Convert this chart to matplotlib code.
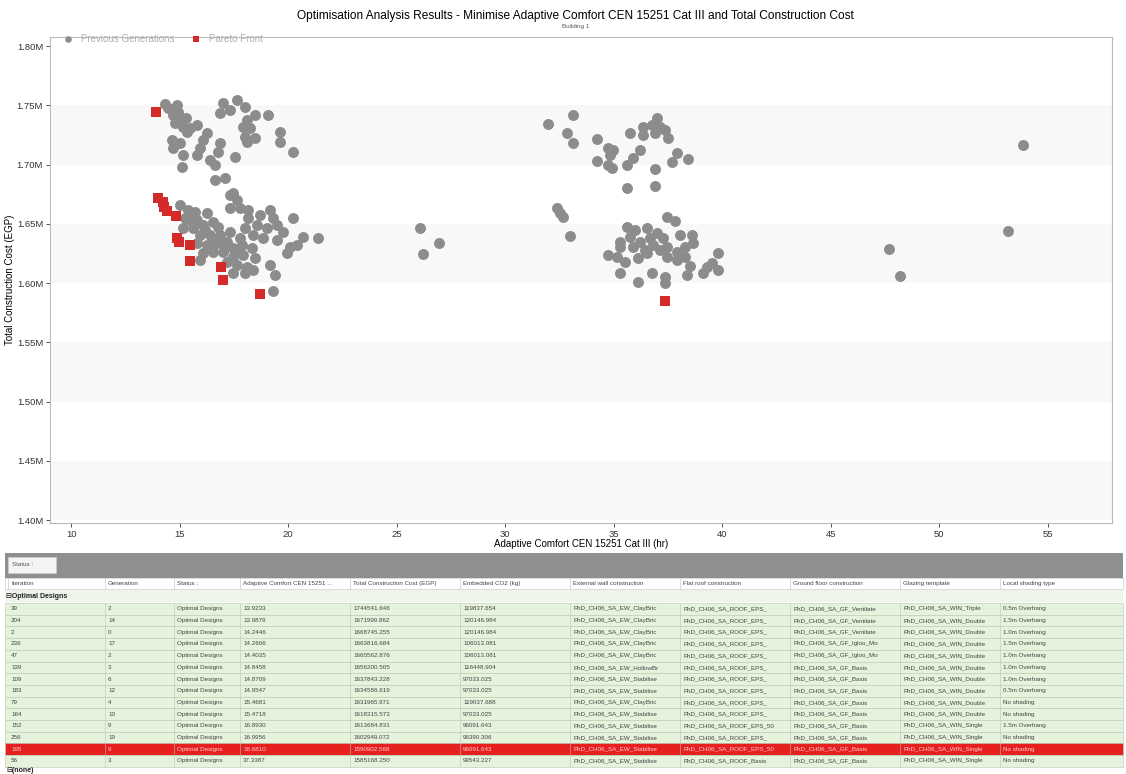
import matplotlib
matplotlib.use('Agg')
import matplotlib.pyplot as plt
from matplotlib.patches import Rectangle
from matplotlib.ticker import FuncFormatter
import numpy as np

plt.rcParams['font.family'] = ['Liberation Sans', 'DejaVu Sans']

# previous generations (comfort hr, cost in thousand EGP)
prev_x = [14.33, 14.88, 14.70, 15.02, 14.79, 15.16, 15.34, 15.80, 14.65, 15.02, 14.70, 15.16, 15.11,
          16.26, 16.08, 15.94, 15.80, 16.40, 16.63, 16.86, 16.77, 17.00, 16.86, 17.32, 17.65, 18.01,
          18.48, 18.11, 17.92, 18.25, 18.01, 18.48, 18.11, 19.07, 19.63, 19.63, 20.23, 17.55, 16.63,
          17.09, 14.47, 14.93, 15.30, 15.48,
          15.02, 15.39, 15.71, 15.25, 15.80, 16.26, 15.16, 15.62, 16.08, 16.54, 16.77, 15.94, 16.40,
          16.86, 17.32, 15.80, 16.26, 16.72, 17.19, 16.08, 16.54, 17.00, 17.46, 17.88, 17.46, 17.92,
          18.34, 15.94, 17.19, 17.65, 18.11, 18.38, 17.46, 18.01, 19.17, 19.40, 19.30, 17.32, 17.65,
          17.32, 17.78, 18.15, 18.15, 18.71, 19.17, 19.30, 18.57, 19.03, 19.49, 20.23, 18.38, 18.84,
          19.49, 19.77, 20.69, 21.38, 20.09, 20.41, 19.95, 17.46, 15.48, 16.17, 16.63, 17.09, 17.69,
          17.78, 18.01, 18.48,
          26.08, 26.95, 26.21,
          31.97, 33.12, 32.85, 33.12, 34.23, 34.73, 34.97, 34.83, 34.23, 34.73, 34.92, 35.75, 36.21,
          35.89, 35.61, 36.35, 36.35, 36.76, 36.99, 37.13, 36.90, 37.36, 37.50, 37.91, 37.68, 38.42,
          36.90, 35.61, 36.90,
          32.39, 32.52, 32.66, 32.98, 37.45, 37.82, 35.61, 35.98, 36.53, 36.99, 35.29, 35.29, 35.89,
          36.21, 36.44, 36.81, 37.27, 37.45, 38.05, 38.60, 38.65, 38.28, 37.91, 34.73, 35.15, 36.12,
          36.53, 37.45, 37.91, 38.28, 35.29, 36.12, 36.76, 37.36, 37.36, 38.37, 39.11, 39.30, 39.53,
          39.80, 39.80, 35.75, 36.67, 37.13, 35.52, 38.51,
          47.68, 48.18, 53.16, 53.85]
prev_y = [1751.1, 1750.2, 1741.8, 1737.6, 1735.0, 1731.6, 1727.4, 1733.3, 1720.7, 1718.1, 1713.9, 1708.0, 1697.9,
          1726.6, 1720.7, 1713.9, 1708.0, 1703.8, 1699.6, 1718.1, 1710.5, 1751.9, 1743.5, 1746.0, 1754.4, 1748.5,
          1741.8, 1737.6, 1731.6, 1730.8, 1723.2, 1722.4, 1719.0, 1741.8, 1727.4, 1719.0, 1710.5, 1706.3, 1686.9,
          1688.6, 1747.7, 1744.3, 1739.2, 1730.8,
          1665.8, 1661.6, 1659.9, 1654.8, 1653.2, 1659.1, 1646.4, 1646.4, 1648.9, 1651.5, 1647.3, 1640.5, 1640.5,
          1640.5, 1643.0, 1633.8, 1632.1, 1633.8, 1634.6, 1625.3, 1626.2, 1626.2, 1629.5, 1632.1, 1621.9, 1623.6,
          1629.5, 1619.4, 1617.7, 1615.2, 1613.5, 1611.0, 1608.4, 1608.4, 1615.2, 1606.7, 1593.2, 1674.3, 1670.0,
          1663.3, 1663.3, 1661.6, 1654.8, 1657.4, 1661.6, 1654.8, 1648.9, 1646.4, 1648.9, 1654.8, 1640.5, 1638.0,
          1636.3, 1643.0, 1638.8, 1638.0, 1630.4, 1632.1, 1625.3, 1676.0, 1653.2, 1644.7, 1636.3, 1629.5, 1626.2,
          1638.0, 1646.4, 1621.1,
          1646.4, 1633.8, 1624.5,
          1734.2, 1741.8, 1726.6, 1718.1, 1721.5, 1713.9, 1712.2, 1708.0, 1703.0, 1699.6, 1697.0, 1726.6, 1712.2,
          1705.5, 1699.6, 1731.6, 1724.9, 1733.3, 1739.2, 1731.6, 1726.6, 1729.1, 1722.4, 1709.7, 1702.1, 1704.6,
          1696.2, 1680.2, 1681.9,
          1663.3, 1659.1, 1655.7, 1639.7, 1655.7, 1652.3, 1647.3, 1644.7, 1646.4, 1642.2, 1634.6, 1630.4, 1630.4,
          1634.6, 1627.8, 1632.1, 1638.0, 1630.4, 1640.5, 1640.5, 1633.8, 1630.4, 1626.2, 1623.6, 1621.9, 1621.1,
          1625.3, 1621.9, 1619.4, 1621.9, 1608.4, 1600.8, 1608.4, 1605.1, 1600.0, 1606.7, 1608.4, 1613.5, 1616.9,
          1625.3, 1610.9, 1638.8, 1638.0, 1627.8, 1617.7, 1614.4,
          1628.7, 1605.9, 1643.9, 1716.5]

# optimal designs table (pareto front)
iteration = [39, 204, 2, 236, 47, 139, 109, 183, 79, 164, 152, 256, 195, 56]
generation = [2, 14, 0, 17, 2, 3, 6, 12, 4, 10, 9, 19, 9, 3]
comfort = [13.9233, 13.9879, 14.2446, 14.2606, 14.4035, 14.8458, 14.8709, 14.9547,
           15.4681, 15.4718, 16.8930, 16.9956, 18.6810, 37.3387]
cost = [1744541.646, 1671999.862, 1668745.255, 1663816.684, 1660562.876, 1656200.505,
        1637843.228, 1634586.619, 1631965.971, 1618315.573, 1613684.831, 1602949.072,
        1590902.568, 1585168.250]
co2 = [119837.654, 120146.984, 120146.984, 106013.081, 106013.081, 116448.904, 97033.025,
       97033.025, 119037.688, 97033.025, 96091.643, 96390.306, 96091.643, 99543.227]
wall = ['ClayBric', 'ClayBric', 'ClayBric', 'ClayBric', 'ClayBric', 'HollowBr', 'Stabilise',
        'Stabilise', 'ClayBric', 'Stabilise', 'Stabilise', 'Stabilise', 'Stabilise', 'Stabilise']
roof = ['EPS_', 'EPS_', 'EPS_', 'EPS_', 'EPS_', 'EPS_', 'EPS_', 'EPS_', 'EPS_', 'EPS_',
        'EPS_50', 'EPS_', 'EPS_50', 'Basis']
ground = ['Ventilate', 'Ventilate', 'Ventilate', 'Igloo_Mo', 'Igloo_Mo', 'Basis', 'Basis',
          'Basis', 'Basis', 'Basis', 'Basis', 'Basis', 'Basis', 'Basis']
glazing = ['Triple', 'Double', 'Double', 'Double', 'Double', 'Double', 'Double', 'Double',
           'Double', 'Double', 'Single', 'Single', 'Single', 'Single']
shading = ['0.5m Overhang', '1.5m Overhang', '1.0m Overhang', '1.5m Overhang', '1.0m Overhang',
           '1.0m Overhang', '1.0m Overhang', '0.5m Overhang', 'No shading', 'No shading',
           '1.5m Overhang', 'No shading', 'No shading', 'No shading']
columns = ['Iteration', 'Generation', 'Status :', 'Adaptive Comfort CEN 15251 ...',
           'Total Construction Cost (EGP)', 'Embedded CO2 (kg)', 'External wall construction',
           'Flat roof construction', 'Ground floor construction', 'Glazing template',
           'Local shading type']
selected = 195

W, H = 1126, 774
fig = plt.figure(figsize=(W / 100, H / 100), dpi=100)
fig.patch.set_facecolor('white')

ax = fig.add_axes([50 / W, 1 - 523 / H, 1062 / W, 486 / H])
for lo in np.arange(1400, 1800, 100):
    ax.axhspan(lo, lo + 50, color='#f8f8f8', zorder=0, lw=0)
ax.scatter(prev_x, prev_y, s=62, c='#8c8c8c', marker='o', linewidths=0,
           label='Previous Generations', zorder=2)
ax.scatter(comfort, np.array(cost) / 1000, s=58, c='#d42a2a', marker='s', linewidths=0,
           label='Pareto Front', zorder=3)
ax.set_xlim(9.03, 57.95)
ax.set_ylim(1397.5, 1807.6)
ax.set_xticks(np.arange(10, 56, 5))
ax.set_yticks(np.arange(1400, 1801, 50))
ax.yaxis.set_major_formatter(FuncFormatter(lambda v, p: '%.2fM' % (v / 1000)))
ax.tick_params(labelsize=6.8, colors='#333333', length=3, width=0.6, pad=2)
for s in ax.spines.values():
    s.set_color('#bbbbbb')
    s.set_linewidth(0.8)
ax.set_xlabel('Adaptive Comfort CEN 15251 Cat III (hr)', fontsize=7, labelpad=0)
ax.set_ylabel('Total Construction Cost (EGP)', fontsize=7, labelpad=1)
ax.legend(loc='upper left', ncol=2, frameon=False, fontsize=7, labelcolor='#b0b0b0',
          markerscale=0.6, bbox_to_anchor=(0.0, 1.025), handletextpad=0.3, columnspacing=1.2)

fig.text(0.511, 1 - 16 / H, 'Optimisation Analysis Results - Minimise Adaptive Comfort CEN 15251 '
         'Cat III and Total Construction Cost', ha='center', va='center', fontsize=8.6)
fig.text(0.511, 1 - 26.5 / H, 'Building 1', ha='center', va='center', fontsize=4.5, color='#555555')

# table
tx = fig.add_axes([0, 0, 1, 222 / H])
tx.set_xlim(0, W)
tx.set_ylim(774, 552)
tx.axis('off')
tx.add_patch(Rectangle((5, 553), 1118, 25, color='#8f8f8f', lw=0))
tx.add_patch(Rectangle((8, 557), 48, 16, facecolor='#f4f4f4', edgecolor='#cccccc', lw=0.6))
tx.text(12, 565, 'Status :', fontsize=4.5, va='center', color='#555555')
tx.add_patch(Rectangle((5, 578), 1118, 11, facecolor='white', edgecolor='#cccccc', lw=0.5))
col_x = [8, 105, 174, 240, 350, 460, 570, 680, 790, 900, 1000]
for cx, name in zip(col_x, columns):
    tx.plot([cx, cx], [578, 589], color='#cccccc', lw=0.5)
    tx.text(cx + 3, 583.5, name, fontsize=4.5, va='center', color='#444444')
tx.add_patch(Rectangle((5, 590), 1118, 12, facecolor='#eef4ea', edgecolor='none'))
tx.text(6, 596.5, '\u229fOptimal Designs', fontsize=5, va='center', fontweight='bold', color='#222222')

row_h = 11.7
for i in range(len(iteration)):
    y0 = 603 + i * row_h
    sel = iteration[i] == selected
    tx.add_patch(Rectangle((5, y0), 1118, row_h, facecolor='#e6201f' if sel else '#e5f2dc',
                           edgecolor='#b8c9b0', lw=0.4))
    vals = [str(iteration[i]), str(generation[i]), 'Optimal Designs', '%.4f' % comfort[i],
            '%.3f' % cost[i], '%.3f' % co2[i], 'PhD_CH06_SA_EW_' + wall[i],
            'PhD_CH06_SA_ROOF_' + roof[i], 'PhD_CH06_SA_GF_' + ground[i],
            'PhD_CH06_SA_WIN_' + glazing[i], shading[i]]
    for j, (cx, v) in enumerate(zip(col_x, vals)):
        if j > 0:
            tx.plot([cx, cx], [y0, y0 + row_h], color='#b8c9b0', lw=0.4)
        tx.text(cx + 3, y0 + row_h / 2, v, fontsize=4.5, va='center',
                color='#ffd0d0' if sel else '#444444')
tx.text(6, 770, '\u229f(none)', fontsize=5, va='center', fontweight='bold', color='#222222')

fig.savefig('out.png', dpi=100, facecolor='white')
